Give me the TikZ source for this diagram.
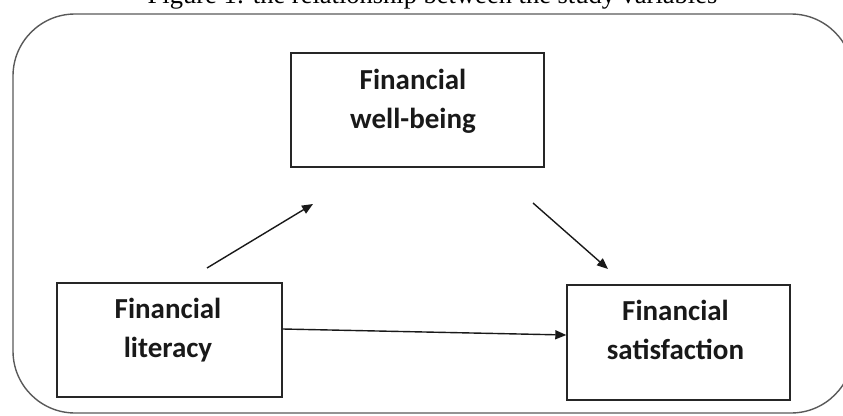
\documentclass[tikz,border=0pt]{standalone}
\usepackage{fontspec}
\setmainfont{Liberation Serif}
\newfontfamily\boxfont{Carlito}
\usetikzlibrary{arrows.meta}
\begin{document}
\begin{tikzpicture}[x=1pt,y=-1pt,
  varbox/.style={draw=black!85, line width=1.4pt, inner sep=0pt},
  vartext/.style={font=\boxfont\bfseries\fontsize{29}{39}\selectfont, align=center, inner sep=0pt, text=black!90},
  arr/.style={draw=black!90, line width=1.4pt, -{Triangle[length=11pt,width=9pt]}},
  frame/.style={draw=black!65, line width=1.4pt, rounded corners=62pt}]
\useasboundingbox (0,0) rectangle (843,415);
\begin{scope}
\clip (0,0) rectangle (843,415);
\draw[frame] (13,14) rectangle (853,413);
\node[font=\fontsize{26.5}{30}\selectfont, anchor=base, inner sep=0pt] (title) at (432.5,4) {Figure 1: the relationship between the study variables};
\end{scope}
% boxes
\node[varbox, minimum width=253pt, minimum height=114pt] (wb) at (417.5,110) {};
\node[varbox, minimum width=225pt, minimum height=114pt] (lit) at (169.5,340) {};
\node[varbox, minimum width=223pt, minimum height=115pt] (sat) at (678.5,342.5) {};
% texts
\node[vartext] (wbt) at (413,101) {Financial\\well-being};
\node[vartext] (litt) at (168,330) {Financial\\literacy};
\node[vartext] (satt) at (675.5,330) {Financial\\satisfaction};
% arrow ends
\coordinate (a1s) at (207,268);
\coordinate (a1e) at (313,204);
\coordinate (a2s) at (533,203);
\coordinate (a2e) at (608,269);
\coordinate (a3s) at (lit.east |- 0,329);
\coordinate (a3e) at (sat.west |- 0,335);
\draw[arr] (a1s) -- (a1e);
\draw[arr] (a2s) -- (a2e);
\draw[arr] (a3s) -- (a3e);
\end{tikzpicture}
\end{document}
